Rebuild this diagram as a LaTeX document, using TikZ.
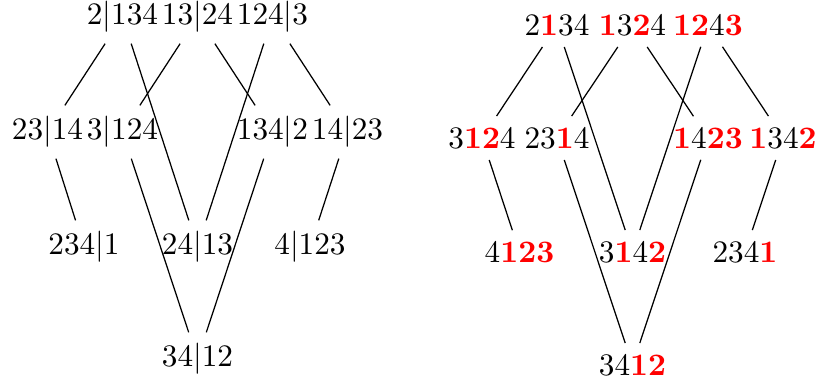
\documentclass[tikz,border=0pt]{standalone}
\usepackage{xcolor}
\newcommand{\rdg}[1]{\textcolor{red}{\textbf{#1}}}
\begin{document}
\begin{tikzpicture}[x=0.32pt,y=-0.32pt,
  lab/.style={inner sep=0.3333em},
  edge/.style={draw=black,line width=0.4pt}]
\useasboundingbox (0,0) rectangle (817,382);
% left diagram
\node[lab] (a1) at (122.5,17) {$2|134$};
\node[lab] (a2) at (197.5,17) {$13|24$};
\node[lab] (a3) at (272.5,17) {$124|3$};
\node[lab] (b1) at (47.5,132) {$23|14$};
\node[lab] (b2) at (122.5,132) {$3|124$};
\node[lab] (b3) at (272.5,132) {$134|2$};
\node[lab] (b4) at (347.5,132) {$14|23$};
\node[lab] (c1) at (84,247) {$234|1$};
\node[lab] (c2) at (197.5,247) {$24|13$};
\node[lab] (c3) at (310,247) {$4|123$};
\node[lab] (d1) at (197.5,359) {$34|12$};
\draw[edge] (a1) -- (b1);
\draw[edge] (a1) -- (c2);
\draw[edge] (a2) -- (b2);
\draw[edge] (a2) -- (b3);
\draw[edge] (a3) -- (c2);
\draw[edge] (a3) -- (b4);
\draw[edge] (b1) -- (c1);
\draw[edge] (b2) -- (d1);
\draw[edge] (b3) -- (d1);
\draw[edge] (b4) -- (c3);
% right diagram
\node[lab] (p1) at (557,25) {2\rdg{1}34};
\node[lab] (p2) at (632.5,25) {\rdg{1}3\rdg{2}4};
\node[lab] (p3) at (708,25) {\rdg{12}4\rdg{3}};
\node[lab] (q1) at (482,138) {3\rdg{12}4};
\node[lab] (q2) at (557,138) {23\rdg{1}4};
\node[lab] (q3) at (708,138) {\rdg{1}4\rdg{23}};
\node[lab] (q4) at (783,138) {\rdg{1}34\rdg{2}};
\node[lab] (r1) at (519.5,252) {4\rdg{123}};
\node[lab] (r2) at (632.5,252) {3\rdg{1}4\rdg{2}};
\node[lab] (r3) at (745,252) {234\rdg{1}};
\node[lab] (s1) at (632.5,365) {34\rdg{12}};
\draw[edge] (p1) -- (q1);
\draw[edge] (p1) -- (r2);
\draw[edge] (p2) -- (q2);
\draw[edge] (p2) -- (q3);
\draw[edge] (p3) -- (r2);
\draw[edge] (p3) -- (q4);
\draw[edge] (q1) -- (r1);
\draw[edge] (q2) -- (s1);
\draw[edge] (q3) -- (s1);
\draw[edge] (q4) -- (r3);
\end{tikzpicture}
\end{document}
